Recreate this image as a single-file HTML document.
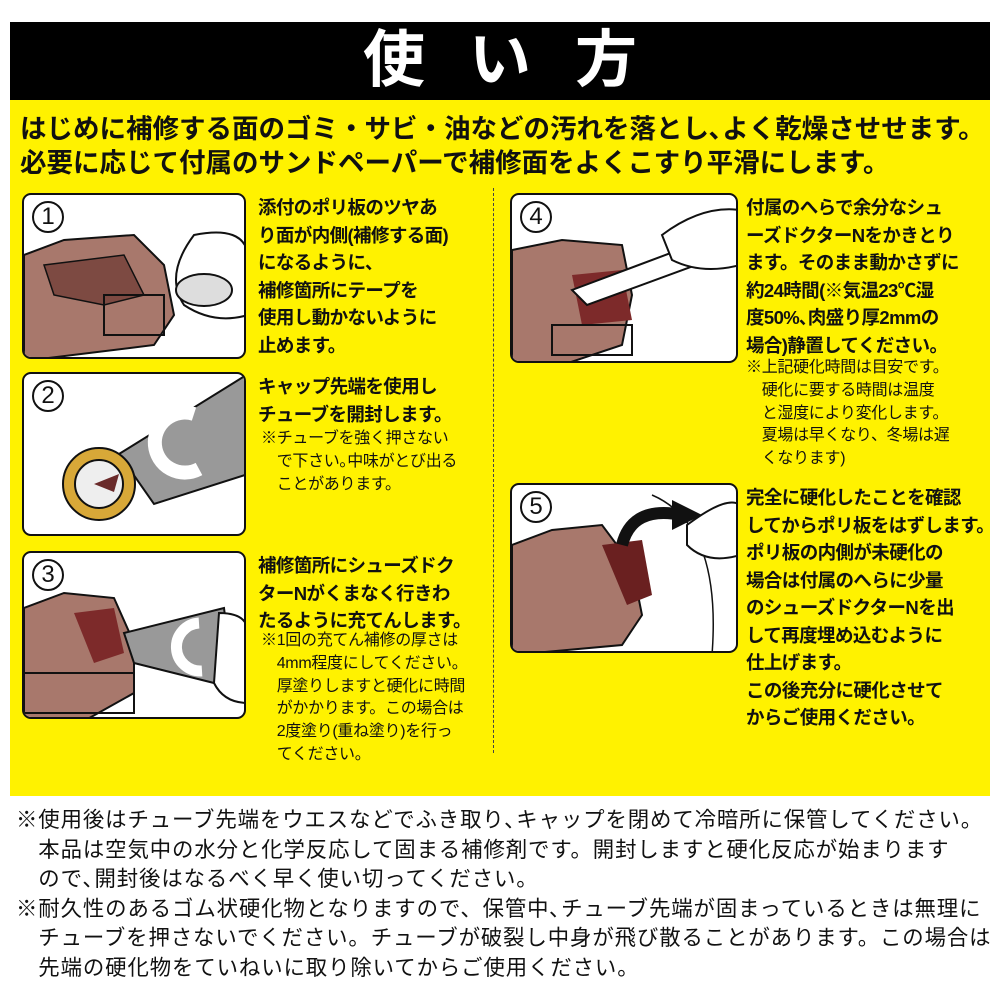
<!DOCTYPE html>
<html><head><meta charset="utf-8">
<style>
*{margin:0;padding:0;box-sizing:border-box}
body{width:1000px;height:1000px;background:#fff;position:relative;overflow:hidden;font-family:"Liberation Sans","Noto Sans CJK JP",sans-serif;color:#111}
.hdr{position:absolute;left:10px;top:22px;width:980px;height:78px;background:#000;color:#fff;text-align:center;font-size:62px;font-weight:bold;line-height:78px;letter-spacing:44px;padding-left:44px}
.yel{position:absolute;left:10px;top:100px;width:980px;height:696px;background:#fff200}
.intro{position:absolute;left:20px;top:112px;font-size:26.5px;font-weight:bold;line-height:34px;white-space:nowrap;letter-spacing:0px}
.panel{position:absolute;background:#fff;border:2.5px solid #111;border-radius:9px;overflow:hidden}
.num{position:absolute;left:8px;top:6px;width:32px;height:32px;border:2.5px solid #111;border-radius:50%;font-size:24px;line-height:28px;text-align:center;background:#fff;z-index:2}
.t{position:absolute;font-size:18.5px;font-weight:bold;line-height:27.5px;white-space:nowrap;letter-spacing:-0.6px}
.n{position:absolute;font-size:16px;line-height:22.8px;white-space:nowrap;letter-spacing:-0.3px}
.div{position:absolute;left:493px;top:188px;height:565px;border-left:1.5px dashed #444}
.foot{position:absolute;left:16px;top:806px;font-size:21.4px;line-height:29.5px;white-space:nowrap;letter-spacing:0.9px}
svg{position:absolute;left:0;top:0}
</style></head><body>
<div class="hdr">使い方</div>
<div class="yel"></div>
<div class="intro">はじめに補修する面のゴミ・サビ・油などの汚れを落とし､よく乾燥させせます。<br>必要に応じて付属のサンドペーパーで補修面をよくこすり平滑にします。</div>
<div class="div"></div>

<div class="panel" style="left:22px;top:193px;width:224px;height:166px">
<div class="num">1</div>
<svg width="224" height="166"><polygon points="0,60 40,45 110,40 140,70 150,120 130,150 0,166" fill="#a8786c" stroke="#111" stroke-width="2"/><polygon points="20,70 100,60 120,100 80,110 30,100" fill="#7d4a42" stroke="#111" stroke-width="1.5"/><rect x="80" y="100" width="60" height="40" fill="none" stroke="#111" stroke-width="2"/><path d="M170,40 Q220,30 224,60 L224,120 Q190,130 160,110 Q140,80 170,40Z" fill="#fff" stroke="#111" stroke-width="2"/><ellipse cx="180" cy="95" rx="28" ry="16" fill="#ddd" stroke="#111" stroke-width="2"/></svg>
</div>
<div class="t" style="left:258px;top:194px">添付のポリ板のツヤあ<br>り面が内側(補修する面)<br>になるように、<br>補修箇所にテープを<br>使用し動かないように<br>止めます。</div>

<div class="panel" style="left:22px;top:372px;width:224px;height:164px">
<div class="num">2</div>
<svg width="224" height="164"><polygon points="95,80 224,0 224,100 130,130" fill="#999" stroke="#111" stroke-width="2"/><path d="M170,40 A30,30 0 1,0 175,95" fill="none" stroke="#fff" stroke-width="14"/><circle cx="75" cy="110" r="36" fill="#d8a838" stroke="#111" stroke-width="2"/><circle cx="75" cy="110" r="24" fill="#eee" stroke="#111" stroke-width="2"/><polygon points="70,110 95,100 90,118" fill="#6a2a2a"/></svg>
</div>
<div class="t" style="left:258px;top:373px">キャップ先端を使用し<br>チューブを開封します。</div>
<div class="n" style="left:261px;top:428px">※チューブを強く押さない<br>　で下さい｡中味がとび出る<br>　ことがあります。</div>

<div class="panel" style="left:22px;top:551px;width:224px;height:168px">
<div class="num">3</div>
<svg width="224" height="168"><polygon points="0,55 40,40 90,45 110,90 110,140 60,168 0,168" fill="#a8786c" stroke="#111" stroke-width="2"/><polygon points="50,60 90,55 100,100 70,110" fill="#7d2a2a"/><rect x="0" y="120" width="110" height="40" fill="none" stroke="#111" stroke-width="2"/><polygon points="100,80 200,55 210,135 110,110" fill="#999" stroke="#111" stroke-width="2"/><path d="M175,70 A22,22 0 1,0 178,118" fill="none" stroke="#fff" stroke-width="11"/><path d="M195,60 Q224,60 224,80 L224,150 Q200,150 190,130Z" fill="#fff" stroke="#111" stroke-width="2"/></svg>
</div>
<div class="t" style="left:258px;top:552px">補修箇所にシューズドク<br>ターNがくまなく行きわ<br>たるように充てんします。</div>
<div class="n" style="left:261px;top:630px">※1回の充てん補修の厚さは<br>　4mm程度にしてください。<br>　厚塗りしますと硬化に時間<br>　がかかります。この場合は<br>　2度塗り(重ね塗り)を行っ<br>　てください。</div>

<div class="panel" style="left:510px;top:193px;width:228px;height:170px">
<div class="num">4</div>
<svg width="228" height="170"><polygon points="0,55 50,45 110,50 120,100 110,150 50,170 0,170" fill="#a8786c" stroke="#111" stroke-width="2"/><polygon points="60,80 110,75 120,125 70,130" fill="#7d2a2a"/><rect x="40" y="130" width="80" height="30" fill="none" stroke="#111" stroke-width="2"/><polygon points="60,95 220,35 225,55 75,110" fill="#fff" stroke="#111" stroke-width="2"/><path d="M150,40 Q190,10 228,15 L228,70 Q190,80 160,65Z" fill="#fff" stroke="#111" stroke-width="2"/></svg>
</div>
<div class="t" style="left:746px;top:194px">付属のへらで余分なシュ<br>ーズドクターNをかきとり<br>ます。そのまま動かさずに<br>約24時間(※気温23℃湿<br>度50%､肉盛り厚2mmの<br>場合)静置してください。</div>
<div class="n" style="left:746px;top:357px">※上記硬化時間は目安です。<br>　硬化に要する時間は温度<br>　と湿度により変化します。<br>　夏場は早くなり、冬場は遅<br>　くなります)</div>

<div class="panel" style="left:510px;top:483px;width:228px;height:170px">
<div class="num">5</div>
<svg width="228" height="170"><polygon points="0,60 40,45 90,40 120,80 130,130 110,160 0,170" fill="#a8786c" stroke="#111" stroke-width="2"/><polygon points="90,60 130,55 140,110 115,120" fill="#6a2020"/><path d="M110,60 Q120,20 170,30" fill="none" stroke="#111" stroke-width="12"/><polygon points="160,15 190,30 160,45" fill="#111"/><path d="M140,10 Q210,40 200,170" fill="none" stroke="#111" stroke-width="1.5"/><path d="M175,40 Q215,10 228,20 L228,70 Q195,80 175,60Z" fill="#fff" stroke="#111" stroke-width="2"/></svg>
</div>
<div class="t" style="left:746px;top:484px">完全に硬化したことを確認<br>してからポリ板をはずします。<br>ポリ板の内側が未硬化の<br>場合は付属のへらに少量<br>のシューズドクターNを出<br>して再度埋め込むように<br>仕上げます。<br>この後充分に硬化させて<br>からご使用ください。</div>

<div class="foot">※使用後はチューブ先端をウエスなどでふき取り､キャップを閉めて冷暗所に保管してください。<br>　本品は空気中の水分と化学反応して固まる補修剤です。開封しますと硬化反応が始まります<br>　ので､開封後はなるべく早く使い切ってください。<br>※耐久性のあるゴム状硬化物となりますので、保管中､チューブ先端が固まっているときは無理に<br>　チューブを押さないでください。チューブが破裂し中身が飛び散ることがあります。この場合は<br>　先端の硬化物をていねいに取り除いてからご使用ください。</div>
</body></html>
